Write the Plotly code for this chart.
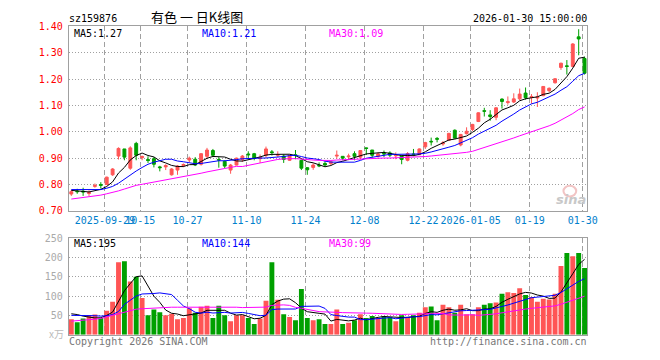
import plotly.graph_objects as go

# ---------------- data ----------------
dates = [
    "2025-09-19", "2025-09-22", "2025-09-23", "2025-09-24", "2025-09-25", "2025-09-26", "2025-09-29", "2025-09-30",
    "2025-10-09", "2025-10-10", "2025-10-13", "2025-10-14", "2025-10-15", "2025-10-16", "2025-10-17", "2025-10-20",
    "2025-10-21", "2025-10-22", "2025-10-23", "2025-10-24", "2025-10-27", "2025-10-28", "2025-10-29", "2025-10-30",
    "2025-10-31", "2025-11-03", "2025-11-04", "2025-11-05", "2025-11-06", "2025-11-07", "2025-11-10", "2025-11-11",
    "2025-11-12", "2025-11-13", "2025-11-14", "2025-11-17", "2025-11-18", "2025-11-19", "2025-11-20", "2025-11-21",
    "2025-11-24", "2025-11-25", "2025-11-26", "2025-11-27", "2025-11-28", "2025-12-01", "2025-12-02", "2025-12-03",
    "2025-12-04", "2025-12-05", "2025-12-08", "2025-12-09", "2025-12-10", "2025-12-11", "2025-12-12", "2025-12-15",
    "2025-12-16", "2025-12-17", "2025-12-18", "2025-12-19", "2025-12-22", "2025-12-23", "2025-12-24", "2025-12-25",
    "2025-12-26", "2025-12-29", "2025-12-30", "2025-12-31", "2026-01-05", "2026-01-06", "2026-01-07", "2026-01-08",
    "2026-01-09", "2026-01-12", "2026-01-13", "2026-01-14", "2026-01-15", "2026-01-16", "2026-01-19", "2026-01-20",
    "2026-01-21", "2026-01-22", "2026-01-23", "2026-01-26", "2026-01-27", "2026-01-28", "2026-01-29", "2026-01-30",
]

open_ = [
    0.764, 0.775, 0.775, 0.766, 0.793, 0.800, 0.800, 0.837, 0.908, 0.935,
    0.862, 0.956, 0.902, 0.895, 0.898, 0.867, 0.867, 0.837, 0.855, 0.872,
    0.893, 0.896, 0.877, 0.907, 0.929, 0.895, 0.888, 0.855, 0.874, 0.895,
    0.916, 0.917, 0.898, 0.911, 0.924, 0.911, 0.908, 0.892, 0.913, 0.892,
    0.864, 0.865, 0.873, 0.880, 0.880, 0.908, 0.907, 0.905, 0.917, 0.904,
    0.939, 0.931, 0.907, 0.918, 0.920, 0.909, 0.908, 0.892, 0.916, 0.913,
    0.943, 0.964, 0.975, 0.954, 0.968, 1.006, 0.950, 0.993, 1.009, 1.039,
    1.080, 1.064, 1.055, 1.124, 1.111, 1.113, 1.125, 1.147, 1.130, 1.128,
    1.137, 1.156, 1.186, 1.244, 1.250, 1.248, 1.360, 1.278,
]
high = [
    0.780, 0.784, 0.788, 0.778, 0.804, 0.809, 0.830, 0.862, 0.941, 0.935,
    0.945, 0.962, 0.910, 0.907, 0.904, 0.871, 0.877, 0.862, 0.874, 0.880,
    0.906, 0.904, 0.919, 0.939, 0.935, 0.904, 0.892, 0.878, 0.902, 0.912,
    0.926, 0.920, 0.914, 0.944, 0.931, 0.926, 0.914, 0.914, 0.931, 0.894,
    0.866, 0.880, 0.884, 0.888, 0.890, 0.929, 0.907, 0.917, 0.926, 0.931,
    0.940, 0.931, 0.922, 0.929, 0.926, 0.922, 0.908, 0.923, 0.935, 0.937,
    0.962, 0.978, 0.980, 0.965, 0.996, 1.009, 0.992, 1.017, 1.030, 1.074,
    1.091, 1.082, 1.093, 1.127, 1.134, 1.146, 1.164, 1.168, 1.143, 1.150,
    1.173, 1.168, 1.204, 1.262, 1.272, 1.336, 1.389, 1.285,
]
low = [
    0.757, 0.765, 0.757, 0.757, 0.788, 0.785, 0.798, 0.833, 0.895, 0.892,
    0.856, 0.892, 0.892, 0.882, 0.865, 0.850, 0.855, 0.834, 0.837, 0.866,
    0.885, 0.870, 0.872, 0.898, 0.904, 0.864, 0.862, 0.841, 0.873, 0.886,
    0.896, 0.892, 0.882, 0.902, 0.910, 0.904, 0.882, 0.890, 0.896, 0.855,
    0.837, 0.856, 0.866, 0.868, 0.874, 0.898, 0.892, 0.892, 0.892, 0.895,
    0.912, 0.902, 0.902, 0.904, 0.904, 0.896, 0.877, 0.888, 0.908, 0.912,
    0.935, 0.948, 0.960, 0.947, 0.965, 0.974, 0.945, 0.990, 1.003, 1.037,
    1.058, 1.042, 1.044, 1.088, 1.103, 1.109, 1.120, 1.122, 1.107, 1.094,
    1.135, 1.150, 1.183, 1.235, 1.217, 1.245, 1.290, 1.217,
]
close = [
    0.773, 0.773, 0.772, 0.770, 0.797, 0.797, 0.828, 0.859, 0.937, 0.904,
    0.939, 0.911, 0.906, 0.891, 0.877, 0.864, 0.872, 0.859, 0.870, 0.876,
    0.900, 0.874, 0.917, 0.931, 0.911, 0.893, 0.870, 0.874, 0.900, 0.908,
    0.913, 0.901, 0.902, 0.935, 0.921, 0.914, 0.895, 0.910, 0.910, 0.862,
    0.856, 0.874, 0.871, 0.874, 0.886, 0.911, 0.900, 0.908, 0.907, 0.929,
    0.937, 0.911, 0.916, 0.916, 0.911, 0.911, 0.895, 0.917, 0.914, 0.935,
    0.959, 0.962, 0.972, 0.958, 0.994, 0.976, 0.990, 1.002, 1.028, 1.072,
    1.078, 1.058, 1.091, 1.115, 1.114, 1.125, 1.143, 1.129, 1.134, 1.132,
    1.172, 1.165, 1.201, 1.260, 1.248, 1.333, 1.352, 1.222,
]
volume = [  # unit: 万
    40, 32, 42, 50, 52, 43, 62, 85, 187.5, 190,
    137.5, 150, 95, 50, 65, 58, 50, 54, 40, 43,
    68, 57, 72, 75, 43, 75, 50, 35, 50, 50,
    43, 27.5, 42, 87.5, 187.5, 90, 52.5, 46, 37.5, 118,
    43, 37.5, 40, 27.5, 27.5, 65, 27.5, 31, 37.5, 52.5,
    43, 48, 43, 48, 46, 35, 50, 46, 50, 57,
    71, 73, 37.5, 77.5, 71, 57, 77.5, 52.5, 52.5, 71,
    77.5, 81, 83, 106, 110, 108, 120, 102.5, 97.5, 85,
    93, 91, 106, 177.5, 211, 202.5, 211, 172.5,
]

# moving-average values at the left edge (their windows reach before the shown days)
ma5_head = [0.778, 0.777, 0.774, 0.772]
ma10_head = [0.781, 0.781, 0.780, 0.779, 0.779, 0.781, 0.786, 0.793, 0.805]
ma30_head = [0.745, 0.748, 0.752, 0.754, 0.756, 0.760, 0.765, 0.770, 0.776, 0.783,
             0.790, 0.797, 0.801, 0.805, 0.809, 0.813, 0.817, 0.821, 0.825, 0.830,
             0.834, 0.838, 0.843, 0.848, 0.853, 0.857, 0.861, 0.865, 0.869]
vma5_head = [54, 52, 48, 45]
vma10_head = [50, 50, 50, 49, 49, 48, 49, 52, 60]
vma30_head = [35, 36, 37, 38, 40, 42, 46, 49, 53, 58, 62, 66, 67, 68, 69, 70, 71, 71, 71,
              71, 72, 72, 72, 72, 72, 72, 71, 71, 71]

tick_dates = ["2025-09-29", "2025-10-15", "2025-10-27", "2025-11-10", "2025-11-24",
              "2025-12-08", "2025-12-22", "2026-01-05", "2026-01-19", "2026-01-30"]
tick_labels = ["2025-09-29", "10-15", "10-27", "11-10", "11-24",
               "12-08", "12-22", "2026-01-05", "01-19", "01-30"]

price_ticks = [0.70, 0.80, 0.90, 1.00, 1.10, 1.20, 1.30, 1.40]
vol_ticks = [50, 100, 150, 200, 250]

code_text = "sz159876"
title_text = "有色 一 日K线图"
time_text = "2026-01-30 15:00:00"
price_ma_labels = ["MA5:1.27", "MA10:1.21", "MA30:1.09"]
vol_ma_labels = ["MA5:195", "MA10:144", "MA30:99"]

# ---------------- helpers ----------------
def moving_avg(values, n, head):
    out = []
    for i in range(len(values)):
        if i < n - 1:
            out.append(head[i])
        else:
            out.append(sum(values[i - n + 1:i + 1]) / n)
    return out

W, H = 660, 360
L, R = 70, 597
MAIN_T, MAIN_B = 21, 212
VOL_T, VOL_B = 240, 340

def px(x):
    return x / W

def py(y):
    return 1 - y / H

RED = "#ff5555"
GREEN = "#00a000"
GRID = "#a0a0a0"
MONO = "DejaVu Sans Mono"
MA_COLORS = ["#000000", "#0000ff", "#ff00ff"]

xs = list(range(len(dates)))
ma_p = [moving_avg(close, 5, ma5_head), moving_avg(close, 10, ma10_head), moving_avg(close, 30, ma30_head)]
ma_v = [moving_avg(volume, 5, vma5_head), moving_avg(volume, 10, vma10_head), moving_avg(volume, 30, vma30_head)]
vol_colors = [RED if c >= o else GREEN for o, c in zip(open_, close)]
tick_pos = [dates.index(d) - 0.3 for d in tick_dates]

fig = go.Figure()
fig.add_trace(go.Candlestick(
    x=xs, open=open_, high=high, low=low, close=close,
    increasing=dict(line=dict(color=RED, width=1), fillcolor=RED),
    decreasing=dict(line=dict(color=GREEN, width=1), fillcolor=GREEN),
    whiskerwidth=0, xaxis="x", yaxis="y", showlegend=False, hoverinfo="skip"))
for m, c in zip(ma_p, MA_COLORS):
    fig.add_trace(go.Scatter(x=xs, y=m, mode="lines", line=dict(color=c, width=1),
                             xaxis="x", yaxis="y", showlegend=False, hoverinfo="skip"))
fig.add_trace(go.Bar(x=xs, y=volume, marker=dict(color=vol_colors, line=dict(width=0)),
                     width=0.83, xaxis="x2", yaxis="y2", showlegend=False, hoverinfo="skip"))
for m, c in zip(ma_v, MA_COLORS):
    fig.add_trace(go.Scatter(x=xs, y=m, mode="lines", line=dict(color=c, width=1),
                             xaxis="x2", yaxis="y2", showlegend=False, hoverinfo="skip"))

xr = [-0.42, len(dates) - 1 + 0.42]
common_x = dict(range=xr, domain=[px(L), px(R)], tickmode="array", tickvals=tick_pos,
                showgrid=True, gridcolor=GRID, gridwidth=1, griddash="5px,3px",
                showline=True, linecolor=GRID, linewidth=1, mirror=True,
                zeroline=False, ticks="", fixedrange=True, tickangle=0)

fig.update_layout(
    width=W, height=H, margin=dict(l=0, r=0, t=0, b=0),
    paper_bgcolor="white", plot_bgcolor="white", boxgap=0.3,
    xaxis=dict(**common_x, anchor="y", ticktext=tick_labels,
               tickfont=dict(family=MONO, size=10, color="#0080cc"),
               rangeslider=dict(visible=False)),
    xaxis2=dict(**common_x, anchor="y2", showticklabels=False, matches="x"),
    yaxis=dict(domain=[py(MAIN_B), py(MAIN_T)], range=[0.70, 1.40], tickmode="array",
               tickvals=price_ticks, ticktext=["%.2f" % v for v in price_ticks],
               tickfont=dict(family=MONO, size=10, color="#ff0000"),
               showgrid=True, gridcolor=GRID, griddash="1px,2px", gridwidth=1,
               showline=True, linecolor=GRID, mirror=True, zeroline=False, ticks="",
               ticklabelstandoff=3, fixedrange=True, anchor="x"),
    yaxis2=dict(domain=[py(VOL_B), py(VOL_T)], range=[0, 250], tickmode="array",
                tickvals=vol_ticks, ticktext=[str(v) for v in vol_ticks],
                tickfont=dict(family=MONO, size=10, color="#aaaaaa"),
                showgrid=True, gridcolor=GRID, griddash="1px,2px", gridwidth=1,
                showline=True, linecolor=GRID, mirror=True, zeroline=False, ticks="",
                ticklabelstandoff=3, fixedrange=True, anchor="x2"),
)

def note(text, x, y, anchor="left", color="#000000", size=10, family=MONO):
    fig.add_annotation(text=text, x=px(x), y=py(y), xref="paper", yref="paper",
                       xanchor=anchor, yanchor="middle", showarrow=False,
                       font=dict(family=family, size=size, color=color), borderpad=0)

note(code_text, 69, 13)
note(title_text, 200, 11, anchor="center", size=13, family="Noto Sans CJK SC")
note(time_text, 598, 13, anchor="right")
for lab, xx, c in zip(price_ma_labels, [74, 204, 334], MA_COLORS):
    note(lab, xx, 28, color=c)
for lab, xx, c in zip(vol_ma_labels, [74, 204, 334], MA_COLORS):
    note(lab, xx, 246, color=c)
note("x万", 66, 339, anchor="right", color="#bbbbbb", size=10, family="Noto Sans CJK SC")
note("Copyright 2026 SINA.COM", 69, 347, color="#777777")
note("http://finance.sina.com.cn", 598, 347, anchor="right", color="#777777")
# sina watermark
fig.add_shape(type="circle", xref="paper", yref="paper",
              x0=px(573), x1=px(586), y0=py(197), y1=py(186),
              line=dict(color="#f2c4c4", width=2), fillcolor="rgba(0,0,0,0)")
fig.add_annotation(text="<b><i>sina</i></b>", x=px(581), y=py(200), xref="paper", yref="paper",
                   xanchor="center", yanchor="middle", showarrow=False,
                   font=dict(family="DejaVu Sans", size=13, color="#c8c8c8"))

fig.write_html("out.html", config={"displayModeBar": False, "staticPlot": True},
               post_script="document.body.style.margin='0';document.body.style.overflow='hidden';")
